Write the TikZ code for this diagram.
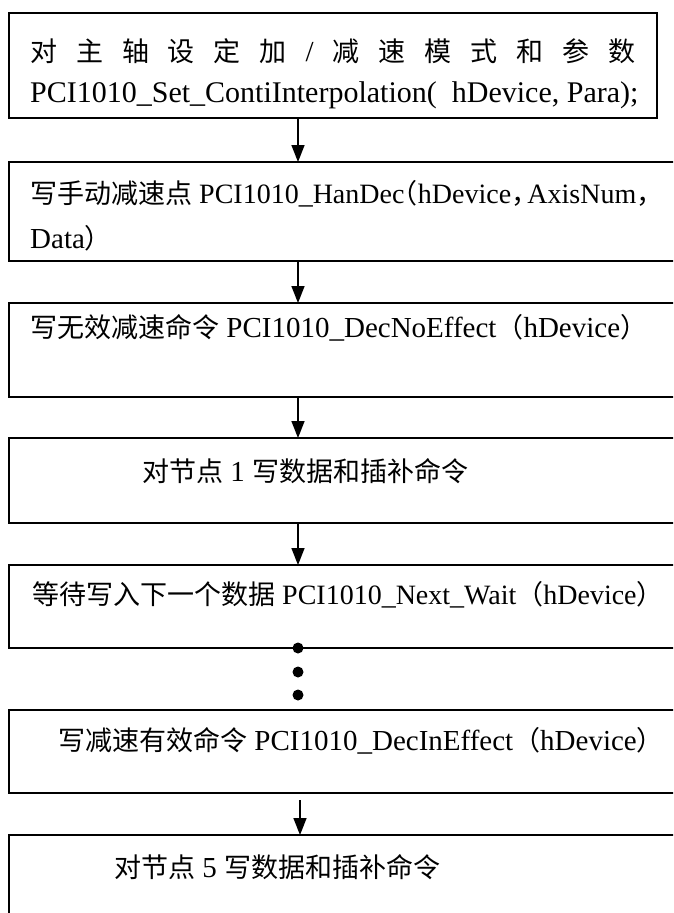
\documentclass[tikz,border=0pt]{standalone}
\usepackage{fontspec}
\setmainfont{Liberation Serif}
\newfontfamily\cjkfont{Noto Sans CJK SC}
\newcommand{\zh}[1]{{\cjkfont\fontsize{27}{32}\selectfont #1}}
\newcommand{\zhclose}{\zh{\makebox[.5em][l]{）}}}
\usetikzlibrary{arrows.meta}
\begin{document}
\begin{tikzpicture}[x=1pt,y=-1pt,
  boxstyle/.style={draw, line width=1.6pt, rectangle, inner sep=0pt, outer sep=0pt, anchor=north west},
  txt/.style={anchor=base west, inner sep=0pt, font=\fontsize{29}{34}\selectfont},
  flow/.style={line width=1.6pt, -{Triangle[length=17pt,width=13pt]}},
  dotstyle/.style={circle, fill, inner sep=0pt, minimum size=11pt}]
\useasboundingbox (0,0) rectangle (673,913);
\clip (0,0) rectangle (673,913);
\fill[white] (0,0) rectangle (673,913);
\coordinate (ax) at (298,0);
\coordinate (ax2) at (300,0);
\node[boxstyle, minimum width=648pt, minimum height=105pt] (b1) at (9,13) {};
\node[boxstyle, minimum width=690pt, minimum height=99pt] (b2) at (9,162) {};
\node[boxstyle, minimum width=690pt, minimum height=94pt] (b3) at (9,303) {};
\node[boxstyle, minimum width=690pt, minimum height=85pt] (b4) at (9,438) {};
\node[boxstyle, minimum width=690pt, minimum height=83pt] (b5) at (9,565) {};
\node[boxstyle, minimum width=690pt, minimum height=83pt] (b6) at (9,710) {};
\node[boxstyle, minimum width=690pt, minimum height=120pt] (b7) at (9,835) {};
\node[txt] (t1a) at (30,61) {\makebox[605pt][s]{\zh{对}\hfill\zh{主}\hfill\zh{轴}\hfill\zh{设}\hfill\zh{定}\hfill\zh{加}\hfill /\hfill\zh{减}\hfill\zh{速}\hfill\zh{模}\hfill\zh{式}\hfill\zh{和}\hfill\zh{参}\hfill\zh{数}}};
\node[txt, font=\fontsize{30}{34}\selectfont] (t1b) at (30,102) {PCI1010\_Set\_ContiInterpolation(\ \ hDevice, Para);};
\node[txt, font=\fontsize{28}{34}\selectfont] (t2a) at (30,203) {\zh{写手动减速点} PCI1010\_HanDec\zh{\makebox[.5em][r]{（}}hDevice\zh{\makebox[.6em][l]{，}}AxisNum\zh{\makebox[.35em][l]{，}}};
\node[txt] (t2b) at (30,248) {Data\zh{）}};
\node[txt] (t3) at (30,337) {\zh{写无效减速命令} PCI1010\_DecNoEffect\zh{（}hDevice\zhclose};
\node[txt] (t4) at (142,481) {\zh{对节点} 1 \zh{写数据和插补命令}};
\node[txt, font=\fontsize{28}{34}\selectfont] (t5) at (32,604) {\zh{等待写入下一个数据} PCI1010\_Next\_Wait\zh{（}hDevice\zhclose};
\node[txt] (t6) at (58,750) {\zh{写减速有效命令} PCI1010\_DecInEffect\zh{（}hDevice\zhclose};
\node[txt] (t7) at (114,877) {\zh{对节点} 5 \zh{写数据和插补命令}};
\draw[flow] (b1.south -| ax) -- (b2.north -| ax);
\draw[flow] (b2.south -| ax) -- (b3.north -| ax);
\draw[flow] (b3.south -| ax) -- (b4.north -| ax);
\draw[flow] (b4.south -| ax) -- (b5.north -| ax);
\node[dotstyle] (d1) at (298,648) {};
\node[dotstyle] (d2) at (298,672) {};
\node[dotstyle] (d3) at (298,695) {};
\draw[flow, shorten <=7pt] (b6.south -| ax2) -- (b7.north -| ax2);
\end{tikzpicture}
\end{document}
